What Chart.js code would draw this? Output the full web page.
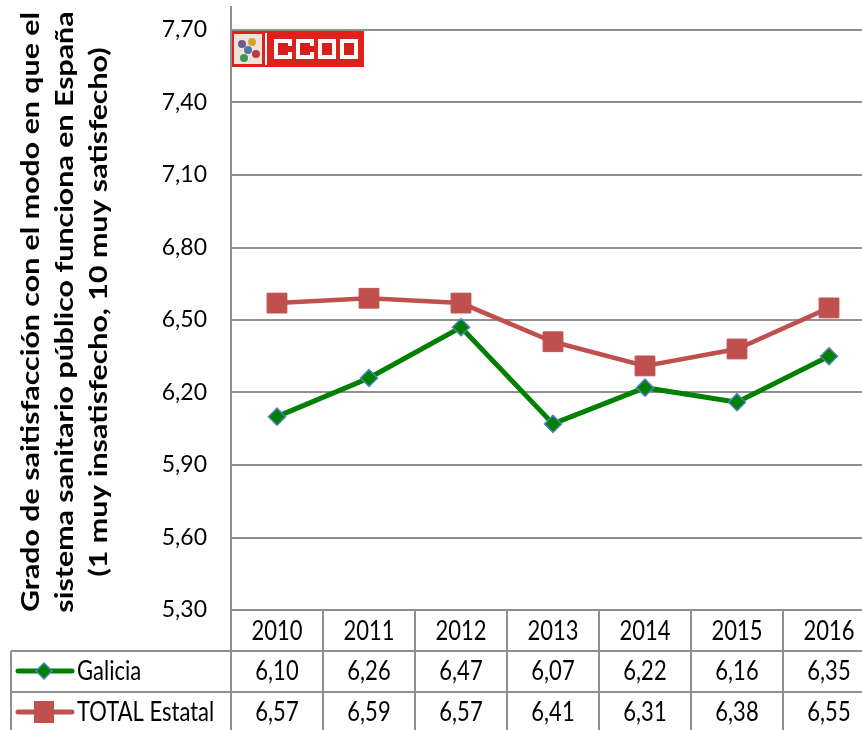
<!DOCTYPE html>
<html>
<head>
<meta charset="utf-8">
<script src="https://cdn.jsdelivr.net/npm/chart.js@4.4.1/dist/chart.umd.min.js"></script>
<style>
  html, body { margin: 0; padding: 0; background: #fff; overflow: hidden; }
  canvas { display: block; }
</style>
</head>
<body>
<canvas id="canvas" width="890" height="730"></canvas>
<script>
const years = ['2010', '2011', '2012', '2013', '2014', '2015', '2016'];
const galicia = [6.10, 6.26, 6.47, 6.07, 6.22, 6.16, 6.35];
const totalEstatal = [6.57, 6.59, 6.57, 6.41, 6.31, 6.38, 6.55];
const yTickValues = [5.30, 5.60, 5.90, 6.20, 6.50, 6.80, 7.10, 7.40, 7.70];
const titleLines = [
    'Grado de saitisfacción con el modo en que el',
    'sistema sanitario público funciona en España',
    '(1 muy insatisfecho, 10 muy satisfecho)'
];

const GREEN = '#008000';
const BLUE = '#4F81BD';
const RED = '#C0504D';
const GRID = '#8f8f8f';
const FONT = 'Lato, "Open Sans", sans-serif';

const fmt = v => v.toFixed(2).replace('.', ',');

// text drawn a bit taller than wide, like the original
function tallText(ctx, txt, x, y, sy) {
    ctx.save();
    ctx.translate(x, y);
    ctx.scale(1, sy);
    ctx.fillText(txt, 0, 0);
    ctx.restore();
}

const tablePlugin = {
    id: 'tablePlugin',
    afterDraw(chart) {
        const ctx = chart.ctx;
        const x = chart.scales.x;
        const area = chart.chartArea;
        const band = (area.right - area.left) / years.length;
        const rowTop = [area.bottom, area.bottom + 41, area.bottom + 82, area.bottom + 123];

        ctx.save();
        ctx.strokeStyle = GRID;
        ctx.lineWidth = 2;

        // y axis line (goes above the top grid line)
        ctx.beginPath();
        ctx.moveTo(area.left, 6);
        ctx.lineTo(area.left, chart.height);
        ctx.stroke();

        // table grid
        ctx.beginPath();
        ctx.moveTo(area.left, rowTop[0]);
        ctx.lineTo(chart.width, rowTop[0]);
        ctx.moveTo(11, rowTop[1]);
        ctx.lineTo(chart.width, rowTop[1]);
        ctx.moveTo(11, rowTop[2]);
        ctx.lineTo(chart.width, rowTop[2]);
        ctx.moveTo(11, rowTop[1]);
        ctx.lineTo(11, chart.height);
        for (let i = 1; i <= years.length; i++) {
            const bx = area.left + band * i;
            ctx.moveTo(bx, rowTop[0]);
            ctx.lineTo(bx, chart.height);
        }
        ctx.stroke();

        // cell text
        ctx.fillStyle = '#000';
        ctx.font = '22px ' + FONT;
        ctx.textAlign = 'center';
        ctx.textBaseline = 'middle';
        years.forEach((yr, i) => {
            const cx = x.getPixelForValue(i);
            tallText(ctx, yr, cx, rowTop[0] + 21, 1.2);
            tallText(ctx, fmt(galicia[i]), cx, rowTop[1] + 20, 1.2);
            tallText(ctx, fmt(totalEstatal[i]), cx, rowTop[2] + 20, 1.2);
        });

        // legend keys
        ctx.lineCap = 'round';
        ctx.lineWidth = 5;
        ctx.strokeStyle = GREEN;
        ctx.beginPath();
        ctx.moveTo(18, rowTop[1] + 20);
        ctx.lineTo(72, rowTop[1] + 20);
        ctx.stroke();
        ctx.beginPath();
        ctx.moveTo(44, rowTop[1] + 12);
        ctx.lineTo(52, rowTop[1] + 20);
        ctx.lineTo(44, rowTop[1] + 28);
        ctx.lineTo(36, rowTop[1] + 20);
        ctx.closePath();
        ctx.fillStyle = GREEN;
        ctx.fill();
        ctx.lineWidth = 1.5;
        ctx.strokeStyle = BLUE;
        ctx.stroke();

        ctx.lineWidth = 5;
        ctx.strokeStyle = RED;
        ctx.beginPath();
        ctx.moveTo(18, rowTop[2] + 20);
        ctx.lineTo(72, rowTop[2] + 20);
        ctx.stroke();
        ctx.fillStyle = RED;
        ctx.fillRect(34, rowTop[2] + 9, 20, 22);

        ctx.fillStyle = '#000';
        ctx.textAlign = 'left';
        tallText(ctx, 'Galicia', 77, rowTop[1] + 20, 1.2);
        tallText(ctx, 'TOTAL Estatal', 77, rowTop[2] + 20, 1.2);

        // rotated axis title, stretched to the original length
        ctx.font = 'bold 24px ' + FONT;
        ctx.textAlign = 'center';
        ctx.textBaseline = 'alphabetic';
        const lineW = ctx.measureText(titleLines[0]).width;
        const stretch = 600 / lineW;
        const baseX = [39, 73, 107];
        titleLines.forEach((t, i) => {
            ctx.save();
            ctx.translate(baseX[i], 312);
            ctx.rotate(-Math.PI / 2);
            ctx.scale(stretch, 1);
            ctx.fillText(t, 0, 0);
            ctx.restore();
        });

        // CCOO logo
        const lx = area.left + 1, ly = 31;
        ctx.fillStyle = '#E0201B';
        ctx.fillRect(lx, ly, 132, 36);
        ctx.fillStyle = '#efe4dc';
        ctx.fillRect(lx + 2, ly + 3, 28, 30);
        const blobs = [['#6b5a8a', 8, 10], ['#d9a030', 18, 8], ['#3a9a4a', 10, 24], ['#c23a3a', 22, 20], ['#4a7ab0', 14, 16]];
        blobs.forEach(b => {
            ctx.fillStyle = b[0];
            ctx.beginPath();
            ctx.arc(lx + 2 + b[1], ly + 3 + b[2], 4, 0, Math.PI * 2);
            ctx.fill();
        });
        ctx.fillStyle = '#fff';
        ctx.fillRect(lx + 33, ly + 2, 2, 32);
        ['C', 'C', 'O', 'O'].forEach((c, i) => {
            ctx.fillStyle = '#fff';
            ctx.fillRect(lx + 42 + i * 22, ly + 8, 18, 20);
            ctx.fillStyle = '#D81E18';
            ctx.fillRect(lx + 46 + i * 22, ly + 12, 10, 12);
            if (c === 'C') {
                ctx.fillRect(lx + 52 + i * 22, ly + 15, 8, 6);
            }
        });
        ctx.restore();
    }
};

const chart = new Chart(document.getElementById('canvas'), {
    type: 'line',
    data: {
        labels: years,
        datasets: [
            {
                label: 'Galicia',
                data: galicia,
                borderColor: GREEN,
                backgroundColor: GREEN,
                borderWidth: 5,
                pointStyle: 'rectRot',
                pointRadius: 8.5,
                pointBackgroundColor: GREEN,
                pointBorderColor: BLUE,
                pointBorderWidth: 1.5,
                tension: 0
            },
            {
                label: 'TOTAL Estatal',
                data: totalEstatal,
                borderColor: RED,
                backgroundColor: RED,
                borderWidth: 4.5,
                pointStyle: 'rect',
                pointRadius: 14,
                pointBackgroundColor: RED,
                pointBorderColor: RED,
                pointBorderWidth: 1,
                tension: 0
            }
        ]
    },
    options: {
        responsive: false,
        animation: false,
        layout: { padding: { top: 30, right: 9, bottom: 120, left: 0 } },
        plugins: {
            legend: { display: false },
            tooltip: { enabled: false }
        },
        scales: {
            x: {
                display: false,
                offset: true
            },
            y: {
                min: 5.3,
                max: 7.7,
                afterBuildTicks(scale) {
                    scale.ticks = yTickValues.map(v => ({ value: v }));
                },
                afterFit(scale) {
                    scale.width = 231;
                    scale.paddingTop = 0;
                    scale.paddingBottom = 0;
                },
                border: { display: false },
                grid: { color: GRID, lineWidth: 2, drawTicks: false },
                ticks: {
                    padding: 24,
                    color: '#000',
                    font: { family: FONT, size: 23 },
                    callback: v => fmt(v)
                }
            }
        }
    },
    plugins: [tablePlugin]
});
</script>
</body>
</html>
